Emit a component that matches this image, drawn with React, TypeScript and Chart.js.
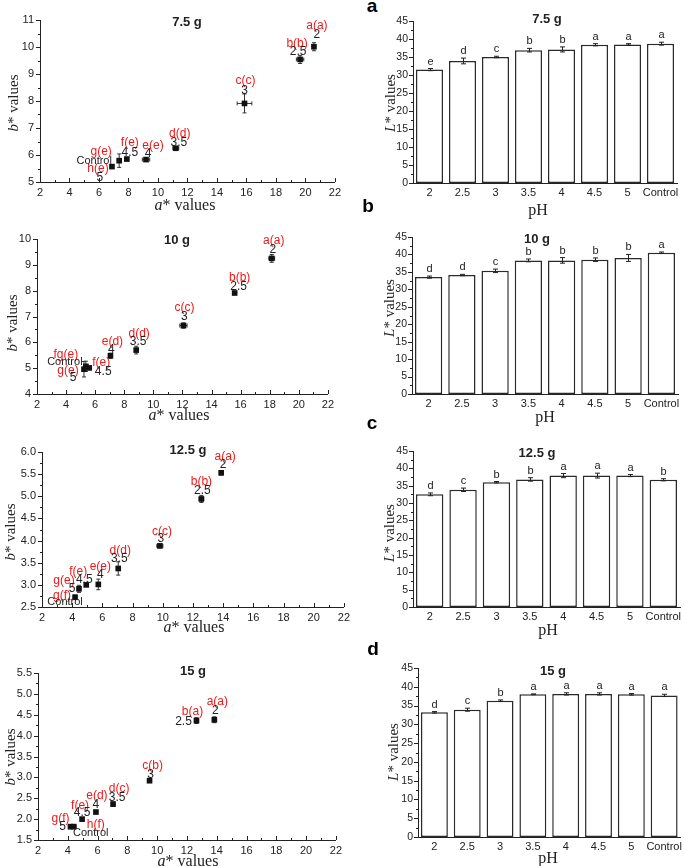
import React, { useEffect, useRef } from 'react';
import { Chart, registerables } from 'chart.js';
Chart.register(...registerables);

// ---------- data ----------
const PH_LABELS = ['2', '2.5', '3', '3.5', '4', '4.5', '5', 'Control'];

// Scatter (a*, b*) per dose, order follows PH_LABELS
const a75 = [20.58, 19.64, 15.87, 11.21, 9.19, 7.89, 6.88, 7.37];
const b75 = [10.01, 9.54, 7.91, 6.25, 5.83, 5.85, 5.57, 5.79];
const aErr75 = [0.1, 0.25, 0.5, 0.2, 0.25, 0.1, 0.1, 0.1];
const bErr75 = [0.15, 0.15, 0.35, 0.05, 0.05, 0.05, 0.05, 0.25];
const sig75 = ['a(a)', 'b(b)', 'c(c)', 'd(d)', 'e(e)', 'f(e)', 'h(e)', 'g(e)'];

const a10 = [18.14, 15.59, 12.07, 8.82, 7.05, 5.59, 5.23, 5.36];
const b10 = [9.25, 7.91, 6.65, 5.7, 5.48, 5.01, 4.96, 5.07];
const aErr10 = [0.2, 0.1, 0.25, 0.1, 0.1, 0.1, 0.1, 0.15];
const bErr10 = [0.15, 0.05, 0.1, 0.15, 0.1, 0.05, 0.3, 0.2];
const sig10 = ['a(a)', 'b(b)', 'c(c)', 'd(d)', 'e(d)', 'f(e)', 'g(e)', 'fg(e)'];

const a125 = [13.87, 12.56, 9.81, 7.05, 5.73, 4.93, 4.45, 4.19];
const b125 = [5.53, 4.94, 3.88, 3.37, 3.01, 3.0, 2.91, 2.72];
const aErr125 = [0.05, 0.15, 0.2, 0.05, 0.1, 0.05, 0.05, 0.05];
const bErr125 = [0.05, 0.08, 0.04, 0.15, 0.12, 0.03, 0.08, 0.05];
const sig125 = ['a(a)', 'b(b)', 'c(c)', 'd(d)', 'e(e)', 'f(e)', 'g(e)', 'g(f)'];

const a15 = [13.84, 12.64, 9.49, 7.04, 5.89, 4.96, 4.18, 4.4];
const b15 = [4.38, 4.36, 2.92, 2.36, 2.17, 2.0, 1.82, 1.82];
const aErr15 = [0.1, 0.05, 0.05, 0.05, 0.05, 0.05, 0.1, 0.15];
const bErr15 = [0.07, 0.07, 0.04, 0.05, 0.03, 0.04, 0.05, 0.03];
const sig15 = ['a(a)', 'b(a)', 'c(b)', 'd(c)', 'e(d)', 'f(e)', 'g(f)', 'h(f)'];

// L* bars
const L75 = [31.5, 33.9, 35.0, 36.9, 37.1, 38.4, 38.5, 38.7];
const LErr75 = [0.3, 0.8, 0.2, 0.5, 0.7, 0.3, 0.2, 0.4];
const LSig75 = ['e', 'd', 'c', 'b', 'b', 'a', 'a', 'a'];

const L10 = [33.5, 34.1, 35.3, 38.3, 38.3, 38.5, 39.0, 40.5];
const LErr10 = [0.3, 0.2, 0.5, 0.4, 0.8, 0.5, 1.0, 0.2];
const LSig10 = ['d', 'd', 'c', 'b', 'b', 'b', 'b', 'a'];

const L125 = [32.5, 33.8, 36.0, 36.8, 37.9, 37.9, 37.9, 36.7];
const LErr125 = [0.4, 0.5, 0.2, 0.5, 0.6, 0.7, 0.3, 0.3];
const LSig125 = ['d', 'c', 'b', 'b', 'a', 'a', 'a', 'b'];

const L15 = [33.2, 33.9, 36.3, 38.0, 38.1, 38.1, 38.0, 37.7];
const LErr15 = [0.2, 0.4, 0.2, 0.1, 0.3, 0.3, 0.2, 0.3];
const LSig15 = ['d', 'c', 'b', 'a', 'a', 'a', 'a', 'a'];

// label placement offsets (px) for scatter annotations: [sigDx, sigDy, phDx, phDy]
const off75 = [[3, -21, 3, -12], [-3, -16, -2, -8], [1, -23, 0, -13], [4, -15, 3, -6], [7, -14, 2, -6], [3, -16, 3, -6], [-14, 2, -12, 11], [-18, -9, -25, 0]];
const off10 = [[2, -18, 1, -9], [5, -15, 4, -6], [1, -18, 1, -9], [3, -16, 2, -8], [2, -14, 1, -6], [12, -5, 14, 4], [-16, 1, -11, 8], [-20, -12, -21, -4]];
const off125 = [[4, -16, 2, -8], [0, -17, 1, -8], [2, -14, 1, -7], [2, -18, 1, -10], [2, -18, 2, -10], [-8, -13, -2, -5], [-15, -8, -7, 0], [-13, -2, -10, 5]];
const off15 = [[3, -18, 1, -9], [-4, -9, -13, 1], [3, -15, 1, -6], [6, -15, 4, -6], [1, -16, 0, -7], [-2, -13, 0, -6], [-10, -8, -8, 0], [22, -2, 17, 6]];

const SANS = "'Liberation Sans', Arial, Helvetica, sans-serif";
const SERIF = "'Liberation Serif', 'Times New Roman', serif";
const INK = '#222';

// ---------- plugins ----------
function axisTicksPlugin(kind: 'scatter' | 'bar') {
  return {
    id: 'axisTicks' + kind,
    afterDraw(chart: any) {
      const { ctx, chartArea: area } = chart;
      const xs = chart.scales.x;
      const ys = chart.scales.y;
      ctx.save();
      ctx.strokeStyle = INK;
      ctx.lineWidth = 1;
      ctx.beginPath();
      const yt = ys.ticks.map((t: any) => t.value);
      for (let i = 0; i < yt.length; i++) {
        const p = Math.round(ys.getPixelForValue(yt[i])) + 0.5;
        ctx.moveTo(area.left - 4, p);
        ctx.lineTo(area.left, p);
        if (i < yt.length - 1) {
          const m = Math.round(ys.getPixelForValue((yt[i] + yt[i + 1]) / 2)) + 0.5;
          ctx.moveTo(area.left - 2, m);
          ctx.lineTo(area.left, m);
        }
      }
      if (kind === 'scatter') {
        const xt = xs.ticks.map((t: any) => t.value);
        for (let i = 0; i < xt.length; i++) {
          const p = Math.round(xs.getPixelForValue(xt[i])) + 0.5;
          ctx.moveTo(p, area.bottom);
          ctx.lineTo(p, area.bottom - 4);
          if (i < xt.length - 1) {
            const m = Math.round(xs.getPixelForValue((xt[i] + xt[i + 1]) / 2)) + 0.5;
            ctx.moveTo(m, area.bottom);
            ctx.lineTo(m, area.bottom - 2);
          }
        }
      }
      ctx.stroke();
      ctx.restore();
    },
  };
}

function scatterExtras(a: number[], b: number[], aErr: number[], bErr: number[], sig: string[], off: number[][]) {
  return {
    id: 'scatterExtras',
    beforeDatasetsDraw(chart: any) {
      const { ctx } = chart;
      const xs = chart.scales.x;
      const ys = chart.scales.y;
      ctx.save();
      ctx.strokeStyle = '#333';
      ctx.lineWidth = 1;
      ctx.beginPath();
      for (let i = 0; i < a.length; i++) {
        const px = xs.getPixelForValue(a[i]);
        const py = ys.getPixelForValue(b[i]);
        const x0 = xs.getPixelForValue(a[i] - aErr[i]);
        const x1 = xs.getPixelForValue(a[i] + aErr[i]);
        const y0 = ys.getPixelForValue(b[i] - bErr[i]);
        const y1 = ys.getPixelForValue(b[i] + bErr[i]);
        ctx.moveTo(x0, py); ctx.lineTo(x1, py);
        ctx.moveTo(x0, py - 2); ctx.lineTo(x0, py + 2);
        ctx.moveTo(x1, py - 2); ctx.lineTo(x1, py + 2);
        ctx.moveTo(px, y0); ctx.lineTo(px, y1);
        ctx.moveTo(px - 2, y0); ctx.lineTo(px + 2, y0);
        ctx.moveTo(px - 2, y1); ctx.lineTo(px + 2, y1);
      }
      ctx.stroke();
      ctx.restore();
    },
    afterDatasetsDraw(chart: any) {
      const { ctx } = chart;
      const xs = chart.scales.x;
      const ys = chart.scales.y;
      ctx.save();
      ctx.textAlign = 'center';
      ctx.textBaseline = 'middle';
      for (let i = 0; i < a.length; i++) {
        const px = xs.getPixelForValue(a[i]);
        const py = ys.getPixelForValue(b[i]);
        const o = off[i];
        ctx.fillStyle = '#f01818';
        ctx.font = `12px ${SANS}`;
        ctx.fillText(sig[i], px + o[0], py + o[1]);
        ctx.fillStyle = INK;
        ctx.font = PH_LABELS[i] === 'Control' ? `11px ${SANS}` : `12px ${SANS}`;
        ctx.fillText(PH_LABELS[i], px + o[2], py + o[3]);
      }
      ctx.restore();
    },
  };
}

function barExtras(vals: number[], err: number[], sig: string[]) {
  return {
    id: 'barExtras',
    afterDatasetsDraw(chart: any) {
      const { ctx } = chart;
      const ys = chart.scales.y;
      const meta = chart.getDatasetMeta(0);
      ctx.save();
      ctx.strokeStyle = '#222';
      ctx.lineWidth = 1;
      ctx.textAlign = 'center';
      ctx.textBaseline = 'middle';
      ctx.font = `11px ${SANS}`;
      ctx.fillStyle = INK;
      for (let i = 0; i < vals.length; i++) {
        const x = Math.round(meta.data[i].x) + 0.5;
        const y0 = ys.getPixelForValue(vals[i] - err[i]);
        const y1 = ys.getPixelForValue(vals[i] + err[i]);
        ctx.beginPath();
        ctx.moveTo(x, y0); ctx.lineTo(x, y1);
        ctx.moveTo(x - 2.5, y0); ctx.lineTo(x + 2.5, y0);
        ctx.moveTo(x - 2.5, y1); ctx.lineTo(x + 2.5, y1);
        ctx.stroke();
        ctx.fillText(sig[i], x, y1 - 7);
      }
      ctx.restore();
    },
  };
}

// ---------- configs ----------
const tickFont = { family: SANS, size: 11 };
const barYFont = { family: SANS, size: 10.5 };

function scatterConfig(p: any) {
  const pts = p.a.map((v: number, i: number) => ({ x: v, y: p.b[i] }));
  return {
    type: 'scatter',
    data: {
      datasets: [{
        data: pts,
        pointStyle: 'rect',
        pointRadius: 4,
        backgroundColor: '#111',
        borderColor: '#111',
        borderWidth: 0,
      }],
    },
    options: {
      responsive: false,
      animation: false,
      devicePixelRatio: 1,
      layout: { padding: { top: 20, right: p.padRight, left: 0, bottom: 0 } },
      plugins: { legend: { display: false }, tooltip: { enabled: false } },
      scales: {
        x: {
          type: 'linear', min: 2, max: 22,
          ticks: { stepSize: 2, font: tickFont, color: INK, padding: 4, maxRotation: 0, autoSkip: false },
          grid: { display: false, drawTicks: false },
          border: { display: true, color: INK, width: 1 },
          afterFit: (s: any) => { s.height = 18; },
        },
        y: {
          type: 'linear', min: p.yMin, max: p.yMax,
          ticks: {
            stepSize: p.yStep, font: tickFont, color: INK, padding: 6, autoSkip: false,
            callback: (v: any) => (p.yStep < 1 ? Number(v).toFixed(1) : String(v)),
          },
          grid: { display: false, drawTicks: false },
          border: { display: true, color: INK, width: 1 },
          afterFit: (s: any) => { s.width = p.yW; },
        },
      },
    },
    plugins: [scatterExtras(p.a, p.b, p.aErr, p.bErr, p.sig, p.off), axisTicksPlugin('scatter')],
  };
}

function barConfig(p: any) {
  return {
    type: 'bar',
    data: {
      labels: PH_LABELS,
      datasets: [{
        data: p.vals,
        backgroundColor: '#ffffff',
        borderColor: '#2a2a2a',
        borderWidth: 1.5,
        borderSkipped: false,
        barPercentage: 0.82,
        categoryPercentage: 1,
      }],
    },
    options: {
      responsive: false,
      animation: false,
      devicePixelRatio: 1,
      layout: { padding: { top: 20, right: p.padRight, left: 0, bottom: 0 } },
      plugins: { legend: { display: false }, tooltip: { enabled: false } },
      scales: {
        x: {
          ticks: { font: tickFont, color: INK, padding: 3, maxRotation: 0, autoSkip: false },
          grid: { display: false, drawTicks: false },
          border: { display: true, color: INK, width: 1 },
          afterFit: (s: any) => { s.height = 18; },
        },
        y: {
          min: 0, max: 45,
          ticks: { stepSize: 5, font: barYFont, color: INK, padding: 5, autoSkip: false },
          grid: { display: false, drawTicks: false },
          border: { display: true, color: INK, width: 1 },
          afterFit: (s: any) => { s.width = p.yW; },
        },
      },
    },
    plugins: [barExtras(p.vals, p.err, p.sig), axisTicksPlugin('bar')],
  };
}

// ---------- panels ----------
const scatterPanels = [
  { key: 's75', left: 0, top: 0, width: 345, height: 200, yW: 40, padRight: 8, yMin: 5, yMax: 11, yStep: 1, a: a75, b: b75, aErr: aErr75, bErr: bErr75, sig: sig75, off: off75 },
  { key: 's10', left: 0, top: 219, width: 338, height: 193, yW: 37, padRight: 8, yMin: 4, yMax: 10, yStep: 1, a: a10, b: b10, aErr: aErr10, bErr: bErr10, sig: sig10, off: off10 },
  { key: 's125', left: 0, top: 432, width: 354, height: 193, yW: 42, padRight: 8, yMin: 2.5, yMax: 6, yStep: 0.5, a: a125, b: b125, aErr: aErr125, bErr: bErr125, sig: sig125, off: off125 },
  { key: 's15', left: 0, top: 653, width: 346, height: 205, yW: 38, padRight: 8, yMin: 1.5, yMax: 5.5, yStep: 0.5, a: a15, b: b15, aErr: aErr15, bErr: bErr15, sig: sig15, off: off15 },
];

const barPanels = [
  { key: 'b75', left: 380, top: 1, width: 303, height: 200, yW: 33, padRight: 6, vals: L75, err: LErr75, sig: LSig75 },
  { key: 'b10', left: 379, top: 217, width: 305, height: 195, yW: 33, padRight: 6, vals: L10, err: LErr10, sig: LSig10 },
  { key: 'b125', left: 380, top: 431, width: 305, height: 194, yW: 33, padRight: 5, vals: L125, err: LErr125, sig: LSig125 },
  { key: 'b15', left: 385, top: 648, width: 300, height: 207, yW: 33, padRight: 2, vals: L15, err: LErr15, sig: LSig15 },
];

function ChartCanvas({ left, top, width, height, config }: any) {
  const ref = useRef<HTMLCanvasElement | null>(null);
  useEffect(() => {
    const chart = new Chart(ref.current as HTMLCanvasElement, config);
    return () => chart.destroy();
  }, []);
  return (
    <canvas
      ref={ref}
      width={width}
      height={height}
      style={{ position: 'absolute', left, top, width, height }}
    />
  );
}

function Txt({ x, y, rot, style, children }: any) {
  return (
    <div
      style={{
        position: 'absolute', left: x, top: y, whiteSpace: 'nowrap', lineHeight: 1,
        transform: `translate(-50%, -50%)${rot ? ' rotate(-90deg)' : ''}`,
        color: INK,
        ...style,
      }}
    >
      {children}
    </div>
  );
}

const serifV = { fontFamily: SERIF, fontSize: 15 };
const serifH = { fontFamily: SERIF, fontSize: 16 };
const titleS = { fontFamily: SANS, fontSize: 13, fontWeight: 'bold' };
const letterS = { fontFamily: SANS, fontSize: 19, fontWeight: 'bold', color: '#000' };

const bStar = (<><i>b</i>* values</>);
const aStar = (<><i>a</i>* values</>);
const LStar = (<><i>L</i>* values</>);

export default function App() {
  return (
    <div style={{ position: 'absolute', left: 0, top: 0, width: 685, height: 866, background: '#fff', overflow: 'hidden' }}>
      {scatterPanels.map((p) => (
        <ChartCanvas key={p.key} left={p.left} top={p.top} width={p.width} height={p.height} config={scatterConfig(p)} />
      ))}
      {barPanels.map((p) => (
        <ChartCanvas key={p.key} left={p.left} top={p.top} width={p.width} height={p.height} config={barConfig(p)} />
      ))}

      {/* scatter titles */}
      <Txt x={187} y={21} style={titleS}>7.5 g</Txt>
      <Txt x={177} y={239} style={titleS}>10 g</Txt>
      <Txt x={188} y={449} style={titleS}>12.5 g</Txt>
      <Txt x={193} y={670} style={titleS}>15 g</Txt>

      {/* scatter axis titles */}
      <Txt x={13} y={103} rot style={serifV}>{bStar}</Txt>
      <Txt x={12} y={323} rot style={serifV}>{bStar}</Txt>
      <Txt x={10} y={532} rot style={serifV}>{bStar}</Txt>
      <Txt x={10} y={757} rot style={serifV}>{bStar}</Txt>
      <Txt x={185} y={205} style={serifH}>{aStar}</Txt>
      <Txt x={179} y={415} style={serifH}>{aStar}</Txt>
      <Txt x={194} y={627} style={serifH}>{aStar}</Txt>
      <Txt x={188} y={861} style={serifH}>{aStar}</Txt>

      {/* bar titles */}
      <Txt x={547} y={18} style={titleS}>7.5 g</Txt>
      <Txt x={537} y={238} style={titleS}>10 g</Txt>
      <Txt x={537} y={452} style={titleS}>12.5 g</Txt>
      <Txt x={553} y={670} style={titleS}>15 g</Txt>

      {/* bar axis titles */}
      <Txt x={390} y={103} rot style={serifV}>{LStar}</Txt>
      <Txt x={389} y={308} rot style={serifV}>{LStar}</Txt>
      <Txt x={389} y={533} rot style={serifV}>{LStar}</Txt>
      <Txt x={393} y={752} rot style={serifV}>{LStar}</Txt>
      <Txt x={538} y={210} style={serifH}>pH</Txt>
      <Txt x={545} y={417} style={serifH}>pH</Txt>
      <Txt x={548} y={630} style={serifH}>pH</Txt>
      <Txt x={548} y={858} style={serifH}>pH</Txt>

      {/* panel letters */}
      <Txt x={372} y={5} style={letterS}>a</Txt>
      <Txt x={368} y={205} style={letterS}>b</Txt>
      <Txt x={372} y={422} style={letterS}>c</Txt>
      <Txt x={373} y={648} style={letterS}>d</Txt>
    </div>
  );
}
